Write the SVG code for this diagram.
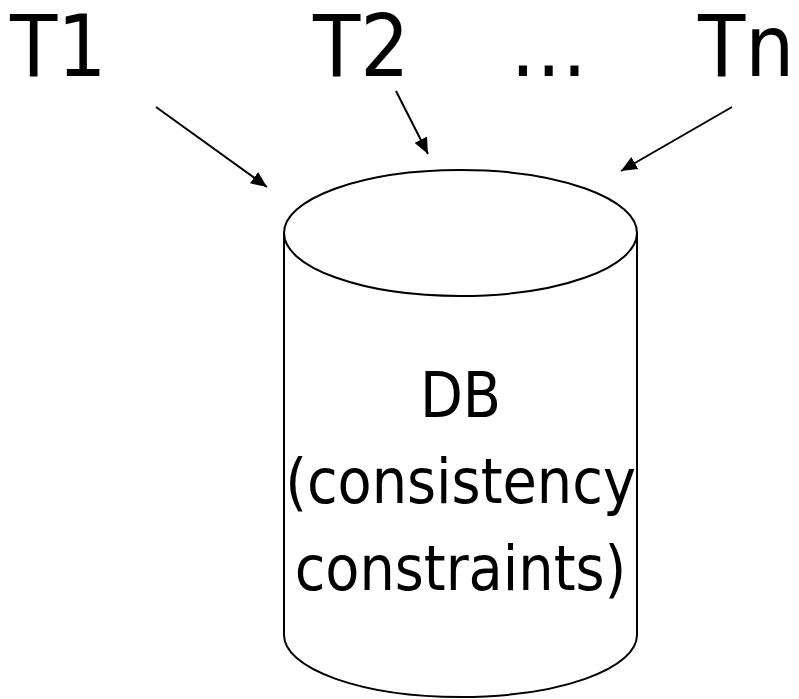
<svg xmlns="http://www.w3.org/2000/svg" width="799" height="699" viewBox="0 0 799 699">
<defs>
<style>
.t{font-family:"DejaVu Sans Condensed","DejaVu Sans",sans-serif;fill:#000}
.big{font-size:86px}
.mid{font-size:62px;text-anchor:middle}
.ln{stroke:#000;stroke-width:2;fill:none}
</style>
<marker id="ah" viewBox="0 0 16 14" refX="16" refY="7" markerWidth="16" markerHeight="14" markerUnits="userSpaceOnUse" orient="auto"><path d="M0,0L16,7L0,14z" fill="#000"/></marker>
</defs>
<rect width="799" height="699" fill="#fff"/>
<g id="T1"><text class="t big" x="10" y="76">T1</text></g>
<g id="T2"><text class="t big" x="313" y="76">T2</text></g>
<g id="dots"><text class="t big" x="510" y="76">…</text></g>
<g id="Tn"><text class="t big" x="698" y="76">Tn</text></g>
<g id="DB">
<path class="ln" d="M284,233 L284,635 A176.5,62 0 0 0 637,635 L637,233"/>
<ellipse class="ln" cx="460.5" cy="233" rx="176.5" ry="63" fill="#fff"/>
<text class="t mid" x="460.5" y="417">DB</text>
<text class="t mid" x="460.5" y="503">(consistency</text>
<text class="t mid" x="460.5" y="590">constraints)</text>
</g>
<g id="connectors">
<line class="ln" x1="156" y1="107" x2="267" y2="187" marker-end="url(#ah)"/>
<line class="ln" x1="396" y1="91" x2="428" y2="154" marker-end="url(#ah)"/>
<line class="ln" x1="732" y1="107" x2="621" y2="171" marker-end="url(#ah)"/>
</g>
</svg>
